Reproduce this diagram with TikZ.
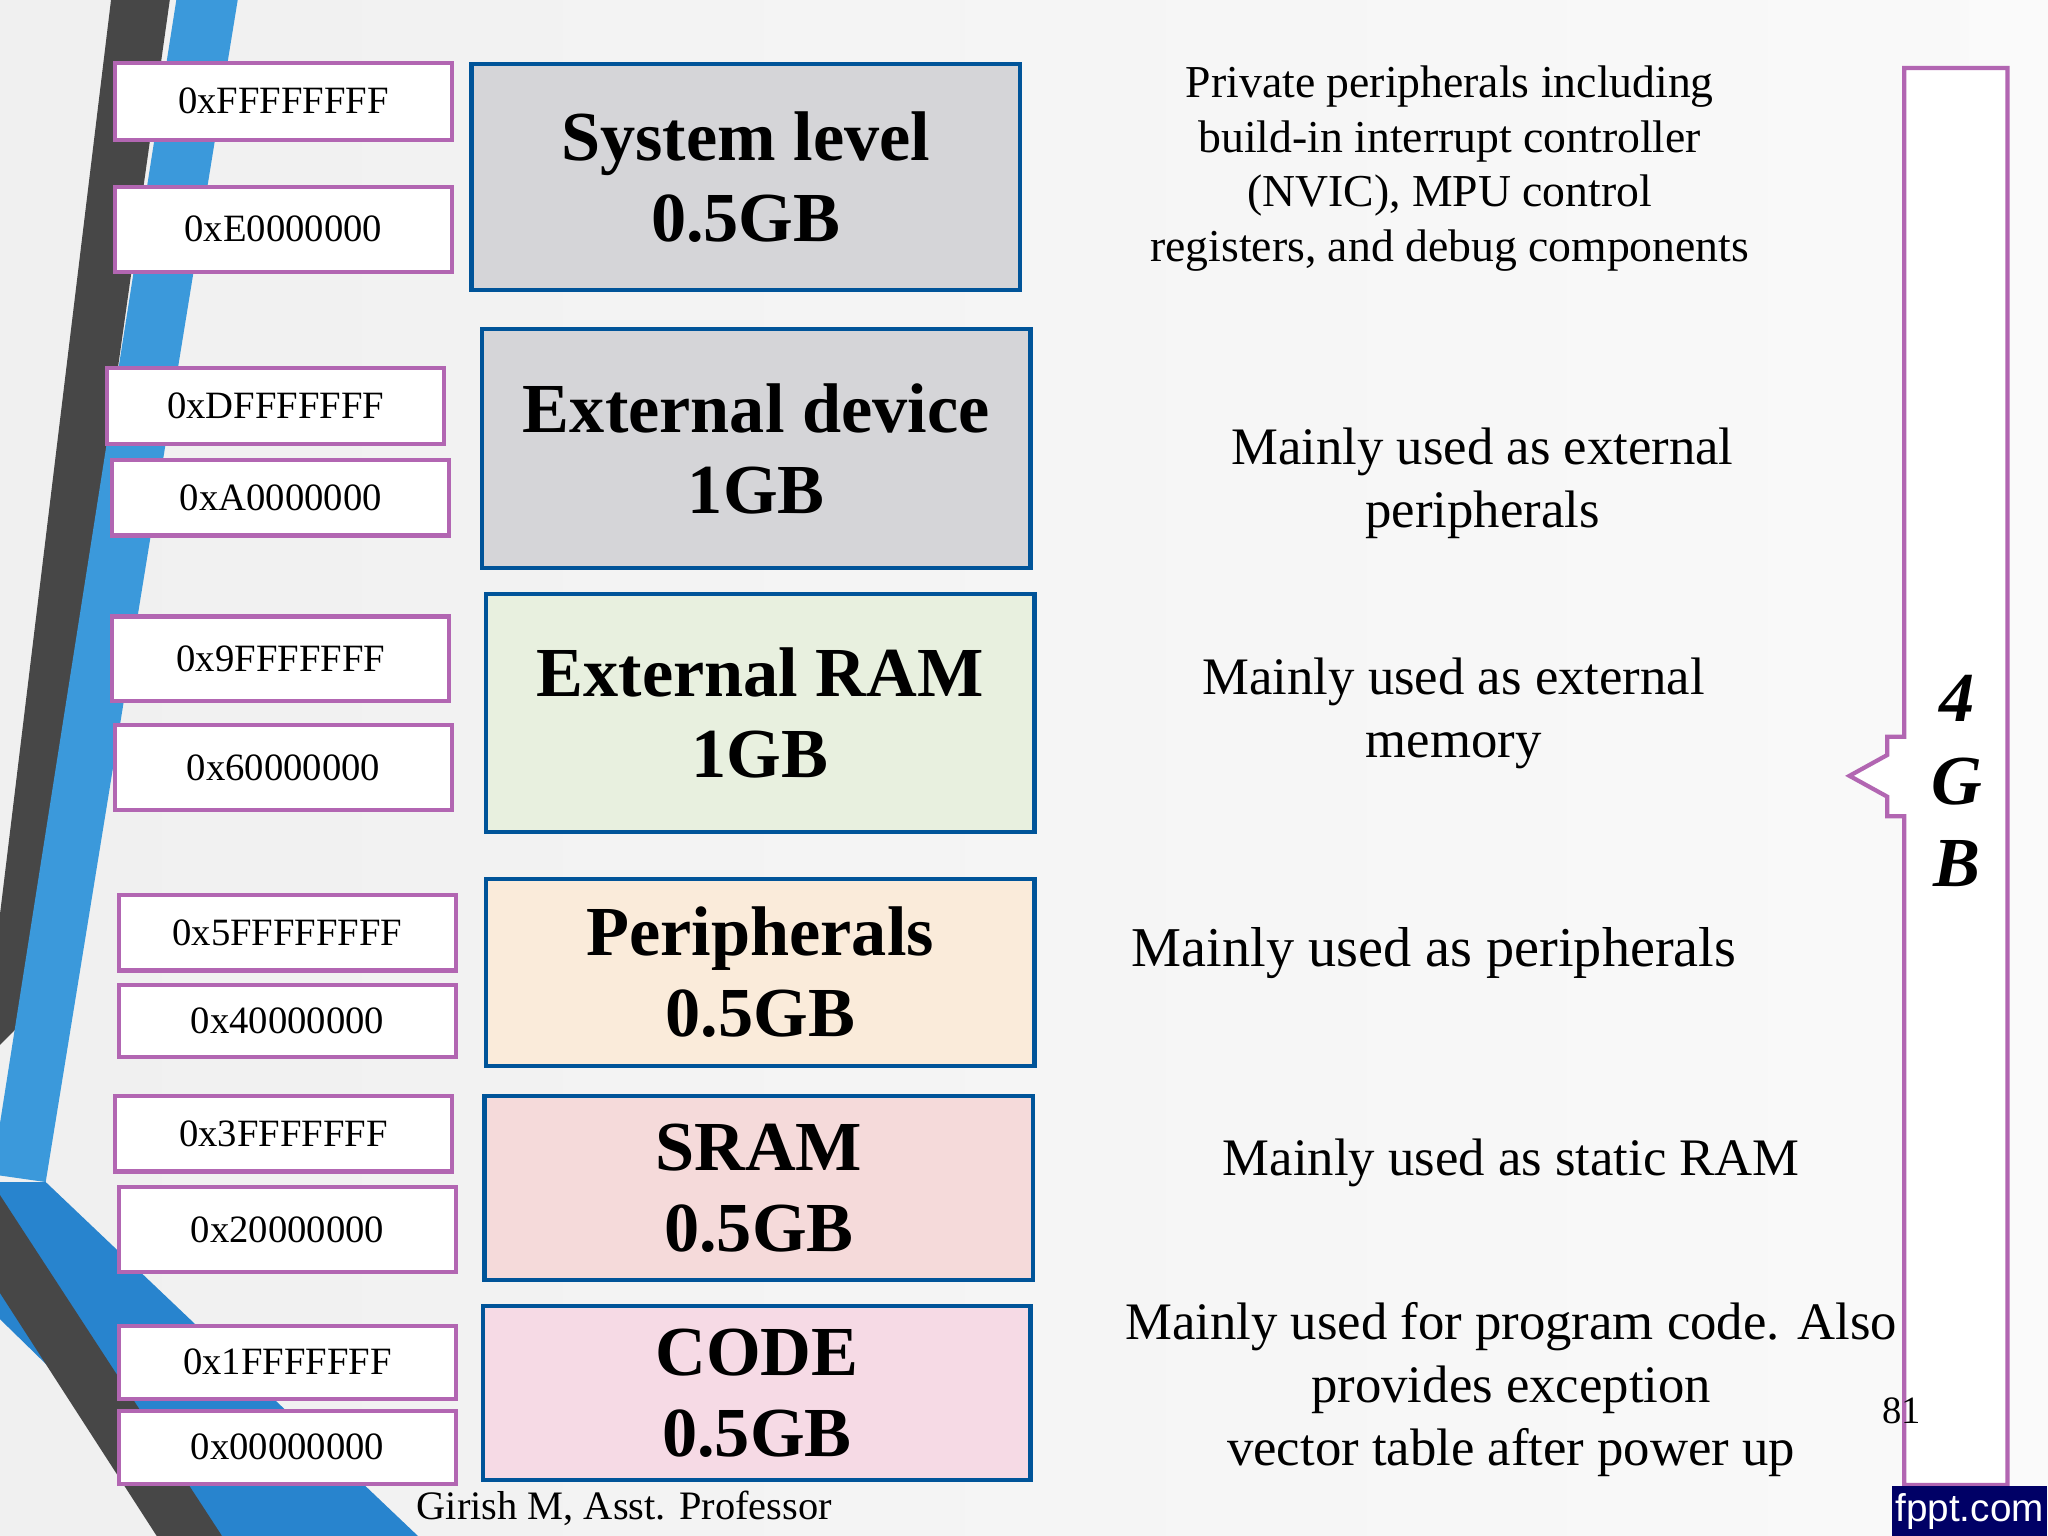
\documentclass[tikz,border=0pt]{standalone}
\usepackage{fontspec}
\setmainfont{Liberation Serif}
\newfontfamily\logofont{Liberation Sans}
\begin{document}
\begin{tikzpicture}[x=0.013061cm,y=-0.013061cm,
 addr/.style={draw=violet!60,line width=1.2pt,fill=white,font=\fontsize{11}{12}\selectfont},
 mem/.style={draw=blue!45!cyan!60!black,line width=1.2pt,font=\bfseries\fontsize{20}{23}\selectfont,align=center},
 desc/.style={align=center,font=\fontsize{13}{15.5}\selectfont}]
\useasboundingbox (0,0) rectangle (1568,1176);
\shade[left color=gray!12,right color=gray!4] (0,0) rectangle (1568,1176);
% left stripes
\fill[gray!20!black!80] (85,0) -- (130,0) -- (20,780) -- (0,800) -- (0,700) -- cycle;
\fill[cyan!70!blue!80] (135,0) -- (182,0) -- (35,905) -- (0,900) -- (0,860) -- cycle;
\fill[cyan!60!blue!90] (0,905) -- (35,905) -- (320,1176) -- (170,1176) -- (0,1010) -- cycle;
\fill[gray!20!black!80] (0,915) -- (170,1176) -- (120,1176) -- (0,990) -- cycle;
% address boxes
\foreach \a/\b/\c/\d/\t/\n in {88/48/346/107/0xFFFFFFFF/a1, 88/143/346/208/0xE0000000/a2, 82/282/340/340/0xDFFFFFFF/a3, 86/352/344/410/0xA0000000/a4, 86/472/344/537/0x9FFFFFFF/a5, 88/555/346/620/0x60000000/a6, 91/685/349/743/0x5FFFFFFFF/a7, 91/754/349/809/0x40000000/a8, 88/839/346/897/0x3FFFFFFF/a9, 91/909/349/974/0x20000000/a10, 91/1015/349/1071/0x1FFFFFFF/a11, 91/1080/349/1136/0x00000000/a12}
 \node[addr,minimum width=(\c-\a)*0.013061cm,minimum height=(\d-\b)*0.013061cm] (\n) at ({(\a+\c)/2},{(\b+\d)/2}) {\t};
% memory boxes
\foreach \a/\b/\c/\d/\col/\t/\n in {361/49/781/222/D5D5D8/{System level\\0.5GB}/m1, 369/252/789/435/D5D5D8/{External device\\1GB}/m2, 372/455/792/637/E8F0DF/{External RAM\\1GB}/m3, 372/673/792/816/FAEBDA/{Peripherals\\0.5GB}/m4, 371/839/791/980/F5DADA/{SRAM\\0.5GB}/m5, 370/1000/789/1133/F6DAE5/{CODE\\0.5GB}/m6}
 {\definecolor{bx}{HTML}{\col}
 \node[mem,fill=bx,minimum width=(\c-\a)*0.013061cm,minimum height=(\d-\b)*0.013061cm] (\n) at ({(\a+\c)/2},{(\b+\d)/2}) {\t};}
% descriptions
\node[desc] (d1) at (1110,129) {Private peripherals including\\build-in interrupt controller\\(NVIC), MPU control\\registers, and debug components};
\node[desc,font=\fontsize{15}{18}\selectfont] (d2) at (1135,370) {Mainly used as external\\peripherals};
\node[desc,font=\fontsize{15}{18}\selectfont] (d3) at (1113,546) {Mainly used as external\\memory};
\node[desc,font=\fontsize{16}{18}\selectfont] (d4) at (1098,730) {Mainly used as peripherals};
\node[desc,font=\fontsize{15}{18}\selectfont] (d5) at (1157,890) {Mainly used as static RAM};
\node[desc,font=\fontsize{15}{18}\selectfont] (d6) at (1157,1064) {Mainly used for program code. Also\\provides exception\\vector table after power up};
% 4GB bar
\draw[violet!60,line width=1.2pt,fill=white] (1458,52) -- (1537,52) -- (1537,1137) -- (1458,1137) -- (1458,625) -- (1445,625) -- (1445,610) -- (1416,594) -- (1445,578) -- (1445,564) -- (1458,564) -- cycle;
\node[font=\bfseries\itshape\fontsize{20}{23.5}\selectfont,align=center] (gb) at (1498,598) {4\\G\\B};
\node[font=\fontsize{11}{13}\selectfont] (pg) at (1456,1080) {81};
\node[font=\fontsize{11.5}{13}\selectfont] (au) at (478,1155) {Girish M, Asst. Professor};
\node[fill=blue!40!black,text=white,font=\logofont\fontsize{11}{13}\selectfont,minimum width=1.55cm,minimum height=0.5cm,inner sep=1pt] (logo) at (1508,1157) {fppt.com};
\end{tikzpicture}
\end{document}
